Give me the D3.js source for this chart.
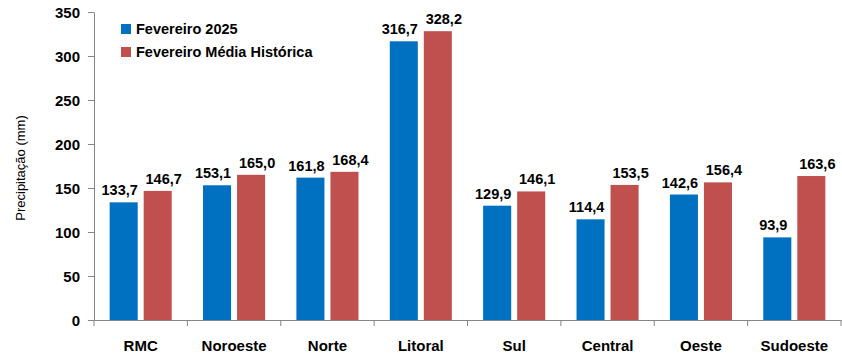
<!DOCTYPE html>
<html>
<head>
<meta charset="utf-8">
<script src="https://cdn.jsdelivr.net/npm/d3@7"></script>
<style>
  body { margin: 0; background: #ffffff; }
  svg { display: block; font-family: "Liberation Sans", Arial, sans-serif; }
  .axis path, .axis line { stroke: #868686; }
</style>
</head>
<body>
<svg id="chart"></svg>
<script>
// data
const regions = ["RMC", "Noroeste", "Norte", "Litoral", "Sul", "Central", "Oeste", "Sudoeste"];
const series = ["Fevereiro 2025", "Fevereiro Média Histórica"];
const feb2025 = [133.7, 153.1, 161.8, 316.7, 129.9, 114.4, 142.6, 93.9];
const febHist = [146.7, 165.0, 168.4, 328.2, 146.1, 153.5, 156.4, 163.6];
const yTicks = [0, 50, 100, 150, 200, 250, 300, 350];
const colors = ["#0070C0", "#C0504D"];

const width = 842, height = 363;
const margin = { top: 12, right: 1, bottom: 43, left: 94 };
const innerW = width - margin.left - margin.right;
const innerH = height - margin.top - margin.bottom;

const data = regions.map((r, i) => ({ region: r, values: [feb2025[i], febHist[i]] }));

const svg = d3.select("#chart")
  .attr("width", width)
  .attr("height", height);

const chart = svg.append("g")
  .attr("transform", `translate(${margin.left},${margin.top})`);

// scales
const x0 = d3.scaleBand().domain(regions).range([0, innerW]).paddingInner(0).paddingOuter(0);
const x1 = d3.scaleBand().domain(series).range([0, x0.bandwidth()]).paddingInner(0.176).paddingOuter(0.46);
const y = d3.scaleLinear().domain([0, 350]).range([innerH, 0]);

// y axis
const yAxis = d3.axisLeft(y).tickValues(yTicks).tickSize(6).tickSizeOuter(0).tickPadding(8);
const yAxisG = chart.append("g").attr("class", "axis y-axis").call(yAxis);
yAxisG.selectAll("text")
  .style("font-size", "15px")
  .style("font-weight", "bold")
  .attr("fill", "#000")
  .attr("dy", "0.36em");

// x axis: line + labels, ticks at the category boundaries
const xAxis = d3.axisBottom(x0).tickSize(0).tickSizeOuter(0).tickPadding(20);
const xAxisG = chart.append("g")
  .attr("class", "axis x-axis")
  .attr("transform", `translate(0,${innerH})`)
  .call(xAxis);
xAxisG.selectAll("text")
  .style("font-size", "15px")
  .style("font-weight", "bold")
  .attr("fill", "#000");

const bounds = regions.map(r => x0(r)).concat([innerW]);
xAxisG.selectAll(".bound")
  .data(bounds)
  .join("line")
  .attr("class", "bound")
  .attr("x1", d => d).attr("x2", d => d)
  .attr("y1", 0).attr("y2", 6)
  .attr("stroke", "#868686");

// bars
const groups = chart.selectAll(".region")
  .data(data)
  .join("g")
  .attr("class", "region")
  .attr("transform", d => `translate(${x0(d.region)},0)`);

groups.selectAll("rect")
  .data(d => d.values.map((v, i) => ({ key: series[i], value: v, idx: i })))
  .join("rect")
  .attr("x", d => x1(d.key))
  .attr("y", d => y(d.value))
  .attr("width", x1.bandwidth())
  .attr("height", d => innerH - y(d.value))
  .attr("fill", d => colors[d.idx]);

// value labels (Excel nudges them apart a little)
const labelShift = [-4, 6];
groups.selectAll(".val")
  .data(d => d.values.map((v, i) => ({ key: series[i], value: v, idx: i })))
  .join("text")
  .attr("class", "val")
  .attr("x", d => x1(d.key) + x1.bandwidth() / 2 + labelShift[d.idx])
  .attr("y", d => y(d.value) - 7)
  .attr("text-anchor", "middle")
  .style("font-size", "14.5px")
  .style("font-weight", "bold")
  .attr("fill", "#000")
  .text(d => d3.format(".1f")(d.value).replace(".", ","));

// y title
svg.append("text")
  .attr("transform", `translate(25,${margin.top + innerH / 2 + 2}) rotate(-90)`)
  .attr("text-anchor", "middle")
  .style("font-size", "13px")
  .attr("fill", "#000")
  .text("Precipitação (mm)");

// legend
const legend = svg.append("g").attr("transform", "translate(121,24)");
const items = legend.selectAll("g")
  .data(series)
  .join("g")
  .attr("transform", (d, i) => `translate(0,${i * 23})`);
items.append("rect")
  .attr("width", 10).attr("height", 10)
  .attr("fill", (d, i) => colors[i]);
items.append("text")
  .attr("x", 15).attr("y", 9.5)
  .style("font-size", "14.5px")
  .style("font-weight", "bold")
  .attr("fill", "#000")
  .text(d => d);
</script>
</body>
</html>
